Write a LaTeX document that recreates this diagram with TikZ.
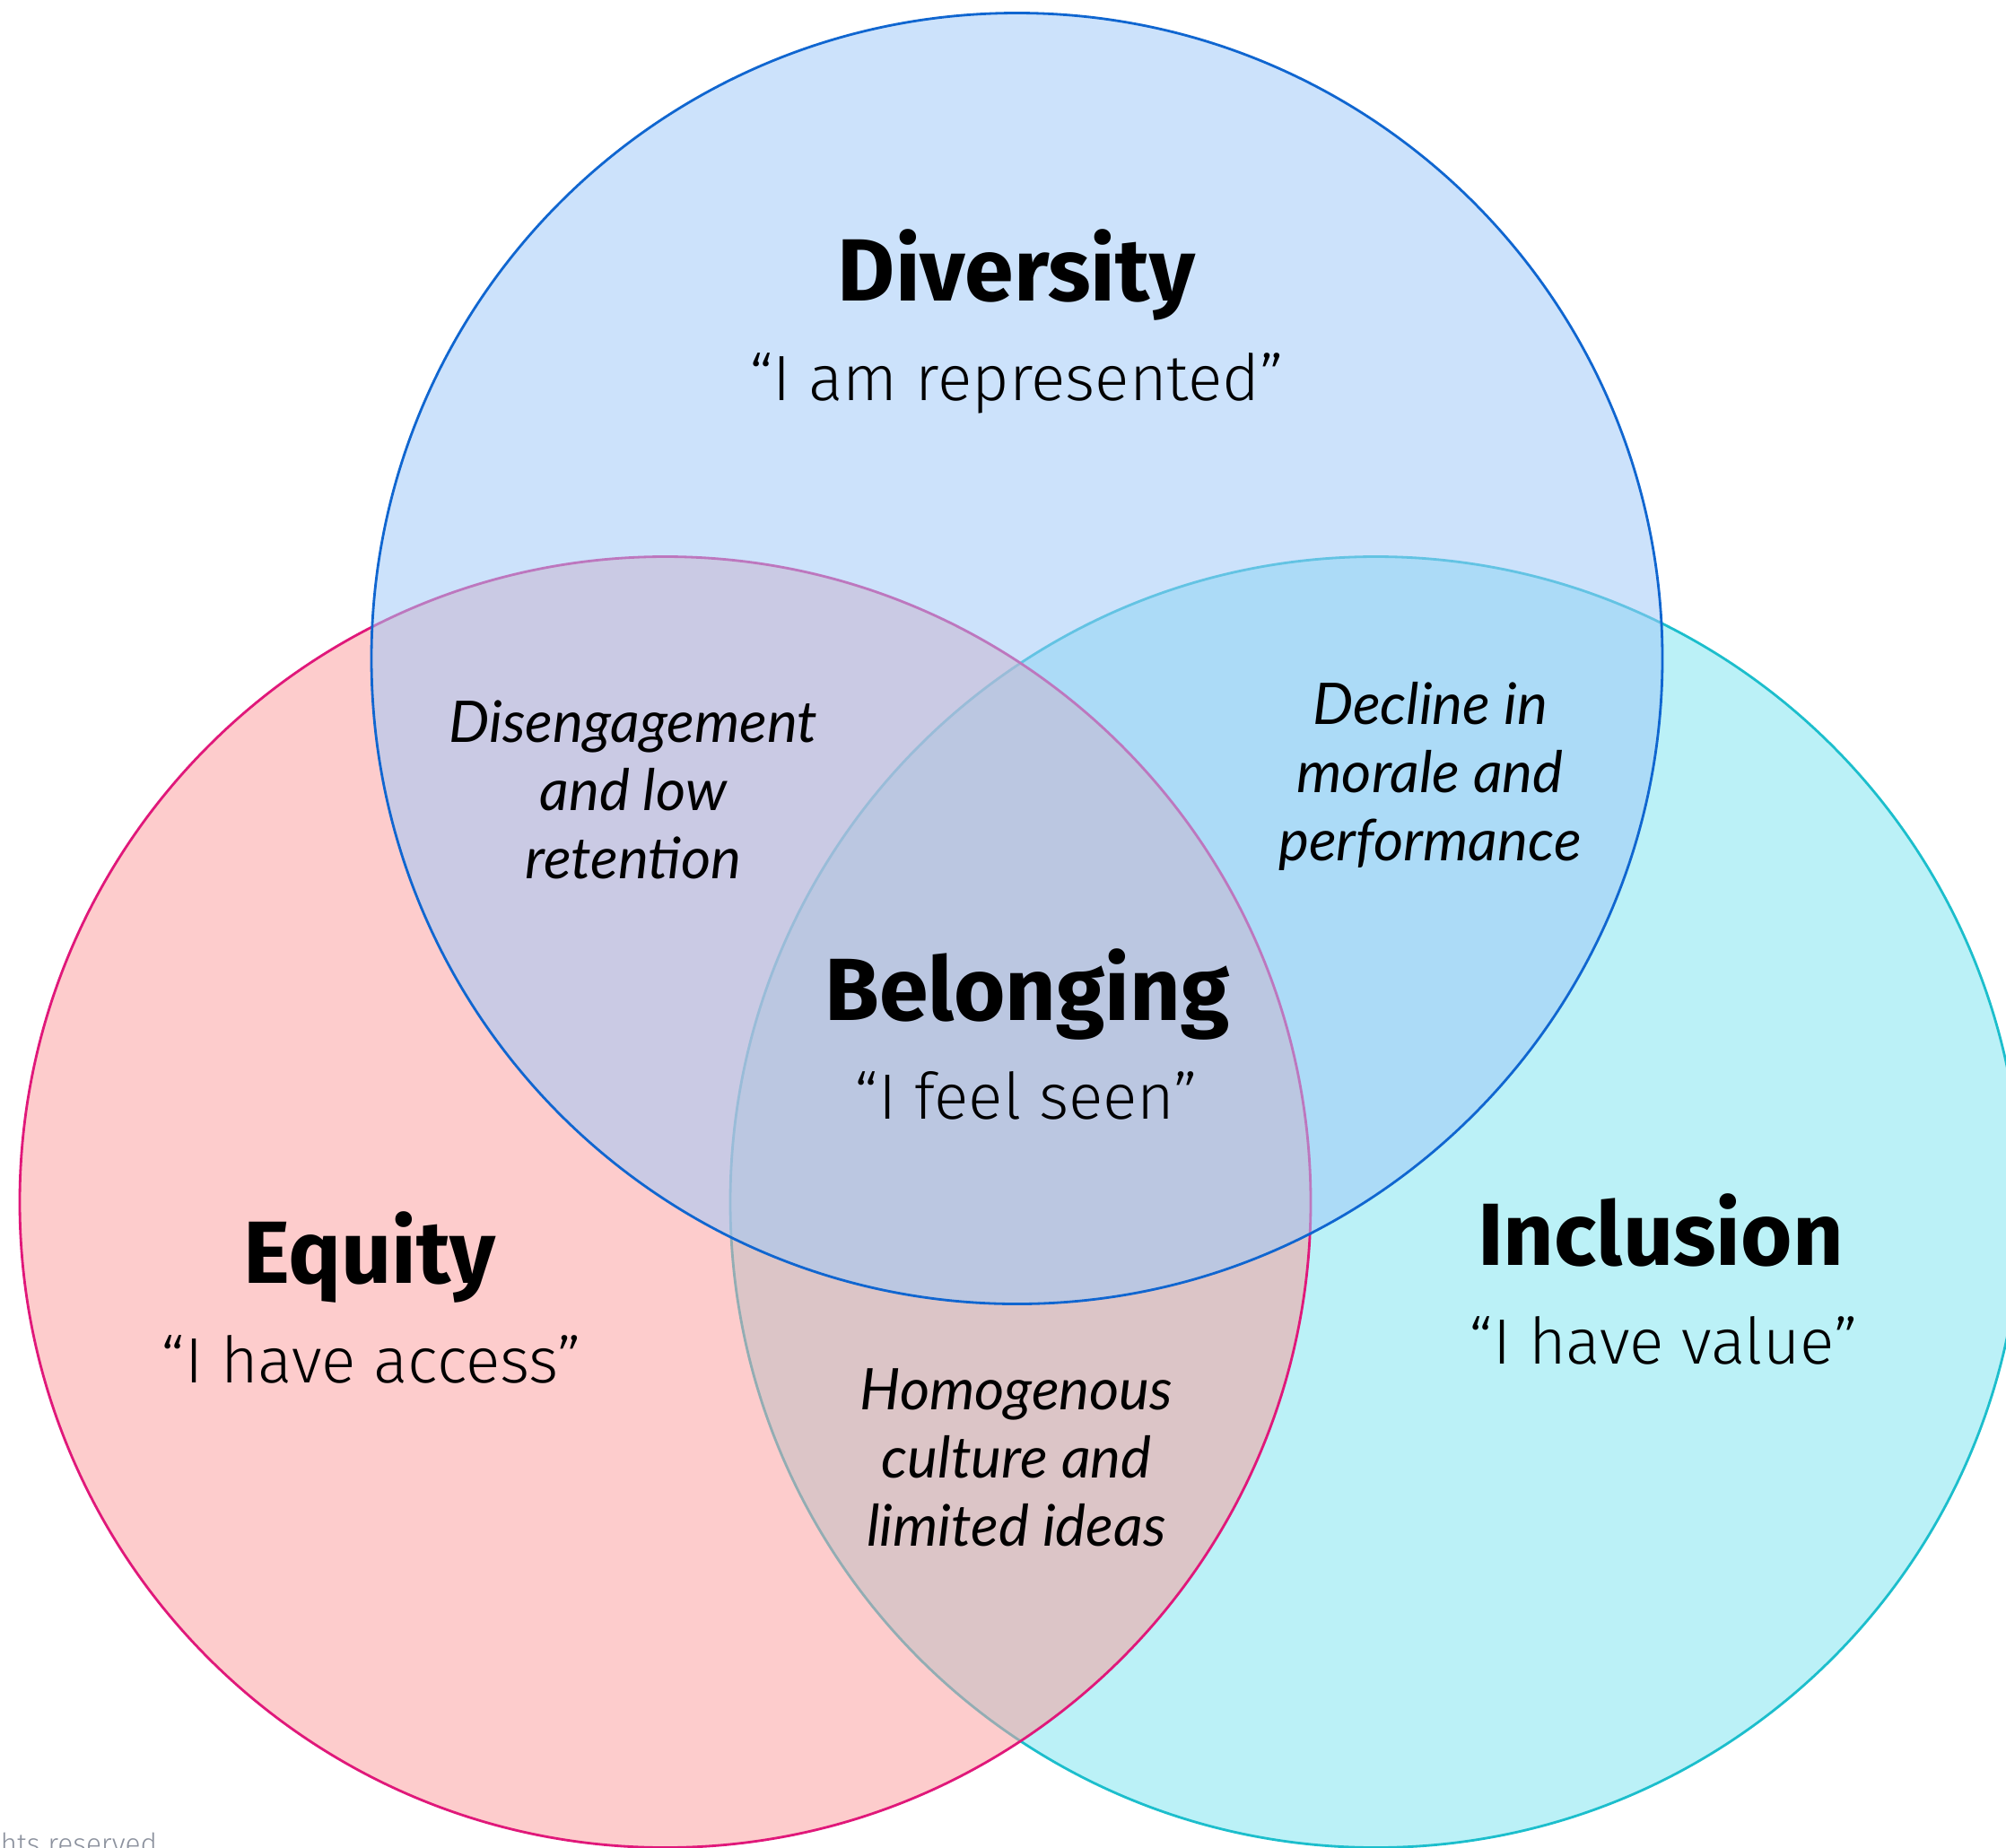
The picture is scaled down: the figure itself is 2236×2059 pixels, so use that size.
\documentclass[tikz,border=0pt]{standalone}
\usepackage{fontspec}
\setmainfont{Fira Sans}
\newfontfamily\lightfont{Fira Sans Light}
\newfontfamily\italfont{Lato}
\usepackage{tikz}

\definecolor{divfill}{RGB}{160,201,248}
\definecolor{divline}{RGB}{16,102,208}
\definecolor{eqfill}{RGB}{251,158,158}
\definecolor{eqline}{RGB}{224,24,122}
\definecolor{incfill}{RGB}{187,241,247}
\definecolor{incline}{RGB}{28,190,204}
\definecolor{notegray}{RGB}{140,146,158}

\tikzset{
  vennset/.style={line width=0.8pt},
  title/.style={anchor=base, font=\bfseries\fontsize{28pt}{32pt}\selectfont},
  quote/.style={anchor=base, font=\lightfont\fontsize{20.3pt}{24pt}\selectfont},
  effect/.style={align=center, font=\italfont\itshape\fontsize{18.2pt}{21.6pt}\selectfont}
}

\begin{document}
\begin{tikzpicture}[x=0.01cm,y=-0.01cm]
    \useasboundingbox (0,0) rectangle (2236,2059);
    % centres of the three sets
    \coordinate (inc) at (1533.5,1340);
    \coordinate (eq) at (741.5,1340);
    \coordinate (div) at (1133.5,734);
    \draw[vennset, fill=incfill, draw=incline] (inc) circle [radius=719.5];
    \draw[vennset, fill=eqfill, fill opacity=0.53, draw=eqline] (eq) circle [radius=719.5];
    \draw[vennset, fill=divfill, fill opacity=0.54, draw=divline] (div) circle [radius=719.5];
    % labels
    \node[title](divtitle) at (1133,335){Diversity};
    \node[quote](divquote) at (1133,446){“I am represented”};
    \node[title](eqtitle) at (412,1430){Equity};
    \node[quote](eqquote) at (414,1541){“I have access”};
    \node[title](inctitle) at (1851,1410){Inclusion};
    \node[quote](incquote) at (1854,1520){“I have value”};
    \node[title](beltitle) at (1145,1137){Belonging};
    \node[quote](belquote) at (1144,1247){“I feel seen”};
    % effects of a missing part
    \node[effect](diseq) at (706,880){Disengagement\\and low\\retention};
    \node[effect](divinc) at (1594,865){Decline in\\morale and\\performance};
    \node[effect](eqinc) at (1133,1625){Homogenous\\culture and\\limited ideas};
    \node[anchor=base west, inner sep=0pt, text=notegray, font=\lightfont\fontsize{9pt}{11pt}\selectfont](rights) at (0,2066){hts reserved};
\end{tikzpicture}
\end{document}
